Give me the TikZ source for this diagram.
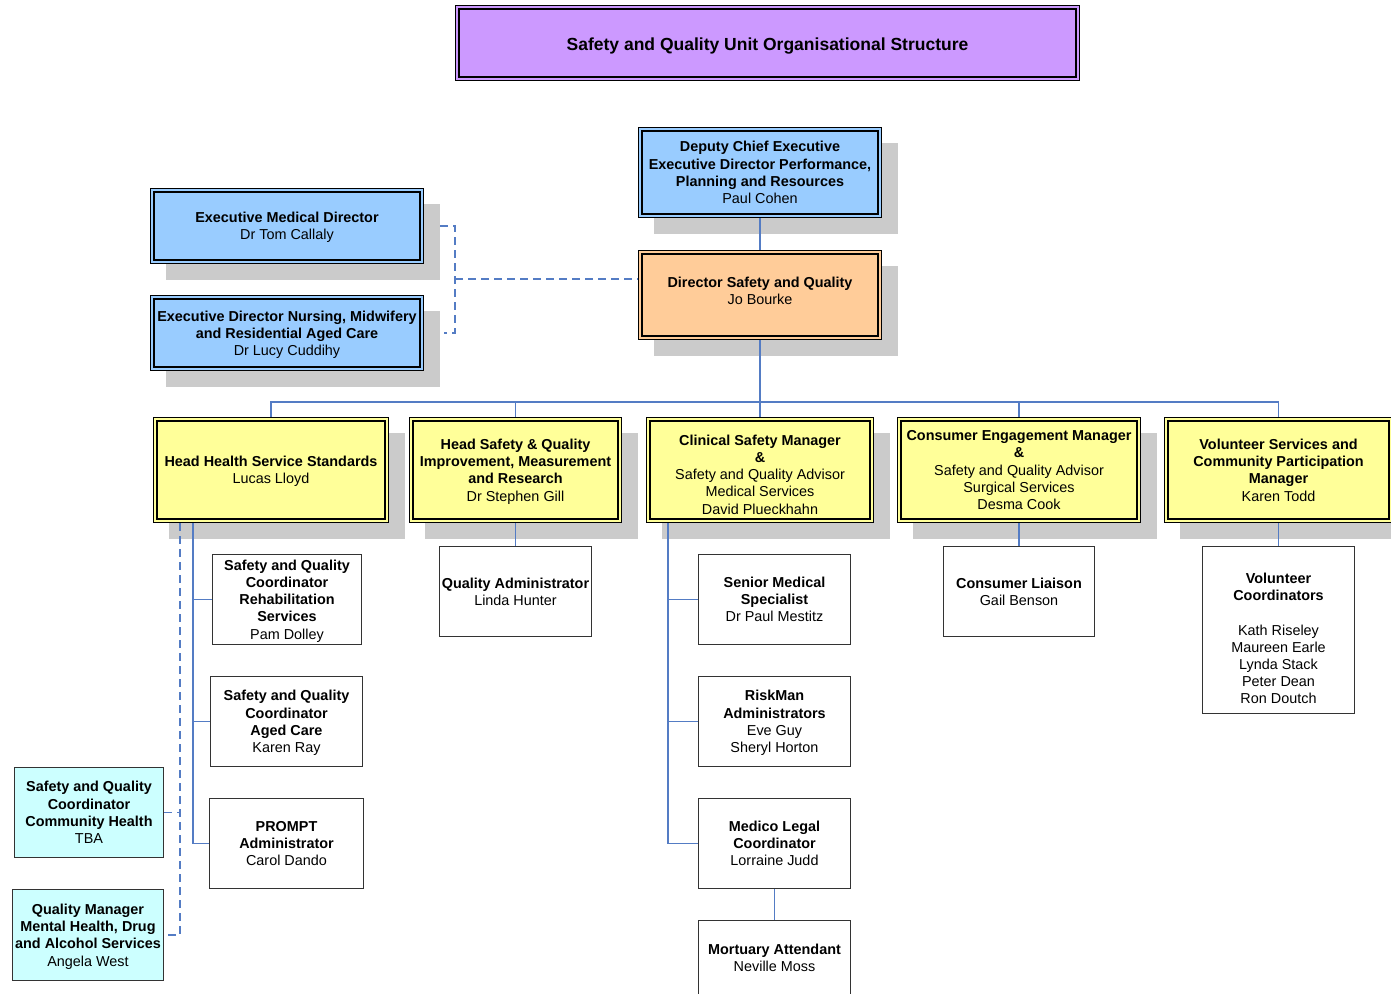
\documentclass[tikz,border=0pt]{standalone}
\usepackage{fontspec}
\setmainfont{Liberation Sans}
\usetikzlibrary{backgrounds}
\definecolor{purp}{HTML}{CC99FF}
\definecolor{bluec}{HTML}{99CCFF}
\definecolor{orangec}{HTML}{FFCC99}
\definecolor{yelc}{HTML}{FFFF99}
\definecolor{cyanc}{HTML}{CCFFFF}
\definecolor{shadowc}{HTML}{CBCBCB}
\definecolor{connc}{RGB}{84,124,196}
\definecolor{edgec}{HTML}{333333}
\begin{document}
\begin{tikzpicture}[x=1pt,y=-1pt,
  txt/.style={font=\fontsize{14.4}{17.2}\selectfont, align=center, inner sep=0pt, text depth=0pt},
  dbox/.style={draw=black, line width=1.2pt, double distance=2.2pt, outer sep=2.3pt, inner sep=0pt, align=center, font=\fontsize{14.4}{17.2}\selectfont, text depth=0pt},
  titlebox/.style={dbox, fill=purp, double=purp},
  bluebox/.style={dbox, fill=bluec, double=bluec},
  orangebox/.style={dbox, fill=orangec, double=orangec},
  yelbox/.style={dbox, fill=yelc, double=yelc, minimum height=101.4pt},
  wbox/.style={draw=edgec, line width=1.3pt, fill=white, inner sep=0pt, align=center, font=\fontsize{14.4}{17.2}\selectfont, minimum height=89.7pt, text depth=0pt},
  cbox/.style={wbox, fill=cyanc},
  conn/.style={draw=connc, line width=1.2pt},
  dconn/.style={draw=connc, line width=1.2pt, dash pattern=on 8pt off 5pt}
]
\useasboundingbox (0,0) rectangle (1391,993);

% title
\node[titlebox, minimum width=620.4pt, minimum height=71.4pt, text height=14pt, text depth=0pt] (title) at (767.5,43)
  {\fontsize{17.5}{21}\selectfont\bfseries Safety and Quality Unit Organisational Structure};

% executives
\node[bluebox, minimum width=239.4pt, minimum height=86.4pt] (dep) at (760,172.5)
  {\textbf{Deputy Chief Executive}\\\textbf{Executive Director Performance,}\\\textbf{Planning and Resources}\\Paul Cohen};
\node[bluebox, minimum width=269.4pt, minimum height=71.4pt] (emd) at (287,226)
  {\textbf{Executive Medical Director}\\Dr Tom Callaly};
\node[bluebox, minimum width=269.4pt, minimum height=71.4pt] (edn) at (287,333)
  {\textbf{Executive Director Nursing, Midwifery}\\\textbf{and Residential Aged Care}\\Dr Lucy Cuddihy};
\node[orangebox, minimum width=239.4pt, minimum height=85.4pt] (dsq) at (760,295) {};
\node[txt] (dsqt) at (760,290.5) {\textbf{Director Safety and Quality}\\Jo Bourke};

% heads
\node[yelbox, minimum width=231.4pt] (hhs) at (271,470)
  {\textbf{Head Health Service Standards}\\Lucas Lloyd};
\node[yelbox, minimum width=208.4pt] (hsq) at (515.5,470)
  {\textbf{Head Safety \& Quality}\\\textbf{Improvement, Measurement}\\\textbf{and Research}\\Dr Stephen Gill};
\node[yelbox, minimum width=223.4pt] (csm) at (760,470) {};
\node[txt] (csmt) at (760,474.5)
  {\textbf{Clinical Safety Manager}\\\textbf{\&}\\Safety and Quality Advisor\\Medical Services\\David Plueckhahn};
\node[yelbox, minimum width=239.4pt] (cem) at (1019,470)
  {\textbf{Consumer Engagement Manager}\\\textbf{\&}\\Safety and Quality Advisor\\Surgical Services\\Desma Cook};
\node[yelbox, minimum width=224.4pt] (vsm) at (1278.5,470)
  {\textbf{Volunteer Services and}\\\textbf{Community Participation}\\\textbf{Manager}\\Karen Todd};

% staff under Head Health Service Standards
\node[wbox, minimum width=148.7pt] (sqr) at (287,599.5)
  {\textbf{Safety and Quality}\\\textbf{Coordinator}\\\textbf{Rehabilitation}\\\textbf{Services}\\Pam Dolley};
\node[wbox, minimum width=151.7pt] (sqa) at (286.5,721.5)
  {\textbf{Safety and Quality}\\\textbf{Coordinator}\\\textbf{Aged Care}\\Karen Ray};
\node[wbox, minimum width=153.7pt] (pr) at (286.5,843.5)
  {\textbf{PROMPT}\\\textbf{Administrator}\\Carol Dando};
\node[cbox, minimum width=148.7pt] (ch) at (89,812.5)
  {\textbf{Safety and Quality}\\\textbf{Coordinator}\\\textbf{Community Health}\\TBA};
\node[cbox, minimum width=150.7pt, minimum height=90.7pt] (qm) at (88,935)
  {\textbf{Quality Manager}\\\textbf{Mental Health, Drug}\\\textbf{and Alcohol Services}\\Angela West};

% other staff
\node[wbox, minimum width=151.7pt] (qa) at (515.5,591.5)
  {\textbf{Quality Administrator}\\Linda Hunter};
\node[wbox, minimum width=151.7pt] (sms) at (774.5,599.5)
  {\textbf{Senior Medical}\\\textbf{Specialist}\\Dr Paul Mestitz};
\node[wbox, minimum width=151.7pt] (rm) at (774.5,721.5)
  {\textbf{RiskMan}\\\textbf{Administrators}\\Eve Guy\\Sheryl Horton};
\node[wbox, minimum width=151.7pt] (ml) at (774.5,843.5)
  {\textbf{Medico Legal}\\\textbf{Coordinator}\\Lorraine Judd};
\node[wbox, minimum width=151.7pt] (ma) at (774.5,965.5) {};
\node[txt] (mat) at (774.5,957.5) {\textbf{Mortuary Attendant}\\Neville Moss};
\node[wbox, minimum width=150.7pt] (cl) at (1019,591.5)
  {\textbf{Consumer Liaison}\\Gail Benson};
\node[wbox, minimum width=151.7pt, minimum height=166.7pt] (vc) at (1278.5,630) {};
\node[txt] (vct) at (1278.5,638.5)
  {\textbf{Volunteer}\\\textbf{Coordinators}\\[17.2pt]Kath Riseley\\Maureen Earle\\Lynda Stack\\Peter Dean\\Ron Doutch};

% shadows
\begin{scope}[on background layer]
\foreach \n in {dep,emd,edn,dsq,hhs,hsq,csm,cem,vsm}
  \fill[shadowc] ([shift={(16,16)}]\n.north west) rectangle ([shift={(16,16)}]\n.south east);
\end{scope}

% connectors
\coordinate (bus) at (760,402);
\draw[conn] (dep) -- (dsq);
\draw[conn] (dsq.south) -- (bus);
\foreach \n in {hhs,hsq,csm,cem,vsm}
  \draw[conn] (bus) -| (\n.north);

\coordinate (tv) at (455,279);
\draw[dconn] ([xshift=16pt]emd.east) -| (tv) |- ([xshift=20pt]edn.east);
\draw[dconn] (tv) -- (tv -| dsq.west);

\coordinate (hv) at (193,0);
\draw[conn] (hhs.south -| hv) |- (pr.west);
\draw[conn] (sqr.west) -- (sqr.west -| hv);
\draw[conn] (sqa.west) -- (sqa.west -| hv);

\coordinate (dv) at (180,0);
\draw[dconn] (hhs.south -| dv) |- (qm.east);
\draw[dconn] (ch.east) -- (ch.east -| dv);

\draw[conn] (hsq) -- (qa);

\coordinate (cv) at (668,0);
\draw[conn] (csm.south -| cv) |- (ml.west);
\draw[conn] (sms.west) -- (sms.west -| cv);
\draw[conn] (rm.west) -- (rm.west -| cv);
\draw[conn] (ml) -- (ma);

\draw[conn] (cem) -- (cl);
\draw[conn] (vsm) -- (vc);
\end{tikzpicture}
\end{document}
